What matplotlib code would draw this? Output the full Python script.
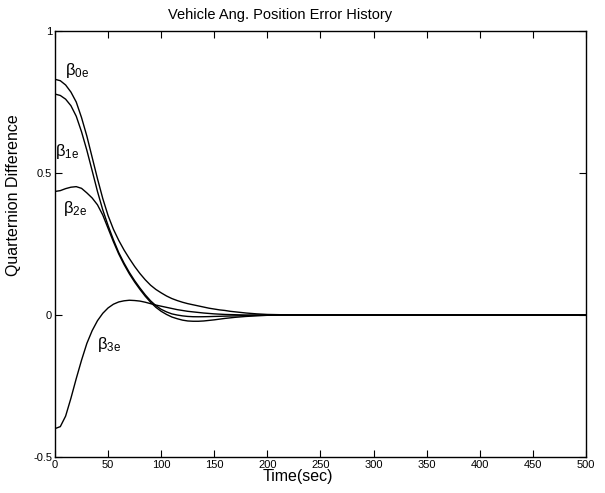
import matplotlib
matplotlib.use('Agg')
import matplotlib.pyplot as plt
import numpy as np

plt.rcParams['font.family'] = ['Liberation Sans', 'DejaVu Sans']
plt.rcParams['mathtext.fontset'] = 'custom'
plt.rcParams['mathtext.rm'] = 'Liberation Sans'
plt.rcParams['mathtext.it'] = 'Liberation Sans'

# time samples (sec): every 5 s up to 200, then sparse on the flat tail
t = list(range(0, 205, 5)) + [220, 250, 300, 350, 400, 450, 500]

# quaternion error components
beta0 = [0.830, 0.825, 0.810, 0.785, 0.750, 0.695, 0.630, 0.555, 0.480, 0.410,
         0.350, 0.302, 0.263, 0.229, 0.199, 0.171, 0.146, 0.124, 0.105, 0.090,
         0.078, 0.067, 0.058, 0.051, 0.045, 0.040, 0.036, 0.032, 0.028, 0.024,
         0.021, 0.018, 0.016, 0.013, 0.011, 0.009, 0.007, 0.0055, 0.004, 0.003,
         0.002,
         0.0005, 0, 0, 0, 0, 0, 0]
beta1 = [0.778, 0.773, 0.760, 0.737, 0.700, 0.645, 0.580, 0.508, 0.435, 0.370,
         0.315, 0.265, 0.220, 0.183, 0.150, 0.121, 0.095, 0.071, 0.050, 0.033,
         0.020, 0.011, 0.004, 0.000, -0.003, -0.005, -0.006, -0.0062, -0.006, -0.0056,
         -0.005, -0.0045, -0.004, -0.0035, -0.003, -0.0025, -0.002, -0.0015, -0.001, -0.0005,
         0.0,
         0, 0, 0, 0, 0, 0, 0]
beta2 = [0.435, 0.438, 0.445, 0.450, 0.452, 0.446, 0.430, 0.412, 0.388, 0.352,
         0.305, 0.258, 0.215, 0.178, 0.145, 0.116, 0.090, 0.066, 0.045, 0.027,
         0.013, 0.002, -0.007, -0.013, -0.018, -0.021, -0.022, -0.022, -0.021, -0.019,
         -0.017, -0.0145, -0.012, -0.010, -0.008, -0.0065, -0.005, -0.004, -0.003, -0.002,
         -0.001,
         0, 0, 0, 0, 0, 0, 0]
beta3 = [-0.400, -0.393, -0.356, -0.293, -0.224, -0.159, -0.100, -0.055, -0.020, 0.006,
         0.025, 0.038, 0.046, 0.050, 0.052, 0.051, 0.049, 0.045, 0.040, 0.035,
         0.031, 0.027, 0.023, 0.019, 0.016, 0.013, 0.011, 0.009, 0.007, 0.0055,
         0.004, 0.003, 0.002, 0.0015, 0.001, 0.0005, 0, 0, 0, 0,
         0,
         0, 0, 0, 0, 0, 0, 0]

fig = plt.figure(figsize=(6.05, 4.93), dpi=100)
ax = fig.add_axes([0.0909, 0.0730, 0.8777, 0.8641])

for y in [beta0, beta1, beta2, beta3]:
    ax.plot(t, y, color='black', lw=1.0)

ax.set_xlim(0, 500)
ax.set_ylim(-0.5, 1)
ax.set_xticks(np.arange(0, 501, 50))
ax.set_yticks([-0.5, 0, 0.5, 1])
ax.set_yticklabels(['-0.5', '0', '0.5', '1'])
ax.tick_params(direction='in', length=5, top=True, right=True, labelsize=8, pad=2)
for s in ax.spines.values():
    s.set_linewidth(1.0)

# title and labels sit a bit left/up of the axes centre in the original
ax.set_title('Vehicle Ang. Position Error History', fontsize=10.5, x=0.424, y=1.0, pad=9)
ax.set_xlabel('Time(sec)', fontsize=11.5)
ax.xaxis.set_label_coords(0.458, -0.028)
ax.set_ylabel('Quarternion Difference', fontsize=11.5)
ax.yaxis.set_label_coords(-0.064, 0.615)

# curve labels
ax.text(9, 0.86, r'$\beta_{\rm 0e}$', fontsize=12, va='center')
ax.text(0, 0.575, r'$\beta_{\rm 1e}$', fontsize=12, va='center')
ax.text(8, 0.375, r'$\beta_{\rm 2e}$', fontsize=12, va='center')
ax.text(40, -0.105, r'$\beta_{\rm 3e}$', fontsize=12, va='center')

fig.savefig('out.png', dpi=100)
